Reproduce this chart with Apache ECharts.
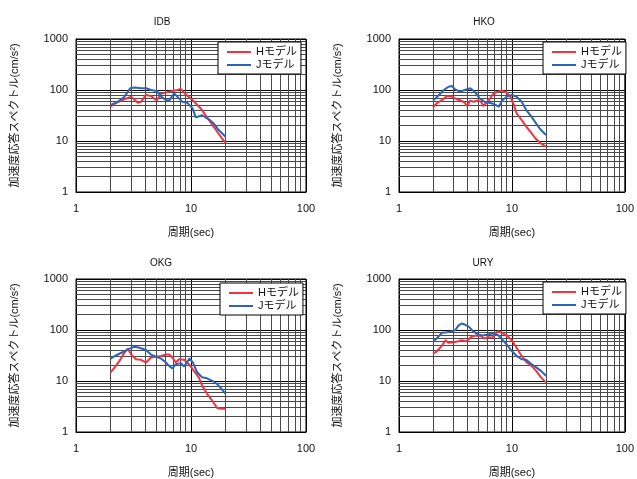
<!DOCTYPE html>
<html><head><meta charset="utf-8">
<script src="https://cdn.jsdelivr.net/npm/echarts@6/dist/echarts.min.js"></script>
<style>html,body{margin:0;padding:0;background:#fff}#c{width:637px;height:479px}</style>
</head><body><div id="c"></div><script>
// ---- data (period [sec], spectral acceleration [cm/s^2]) ----
const panelTitles = ['IDB', 'HKO', 'OKG', 'URY'];
const seriesNames = ['Hモデル', 'Jモデル'];
const yTickLabels = [1, 10, 100, 1000];
const xTickLabels = [1, 10, 100];
const yMinor = [2,3,4,5,6,7,8,9,20,30,40,50,60,70,80,90,200,300,400,500,600,700,800,900];
const xMinor = [2,3,4,5,6,7,8,9,20,30,40,50,60,70,80,90];

const idbH = [[2,47],[2.2,55],[2.56,64],[3.02,74],[3.45,56],[3.68,59],[4.07,80],[4.49,76],[5.03,62],[5.48,84],[6.45,93],[7.6,100],[8.15,105],[8.9,84],[10.3,64],[12.1,44],[14.3,26],[16.9,15.2],[20,9.0]];
const idbJ = [[2,51],[2.2,56],[2.39,62],[2.64,74],[2.96,108],[3.23,112],[3.68,108],[4.07,108],[4.49,100],[5.03,96],[5.48,74],[6.05,64],[6.45,62],[7.14,86],[7.6,74],[8.4,59],[9.3,56],[10.3,44],[11.0,29],[12.5,32],[14.3,26.6],[15.8,22],[17.4,16.4],[20,12.1]];
const hkoH = [[2,46],[2.18,56],[2.41,64],[2.66,76],[2.94,74],[3.24,66],[3.58,62],[3.83,56],[4.01,48.5],[4.28,62],[4.58,59],[4.99,62],[5.33,59],[5.59,48.5],[5.82,47],[6.28,64],[6.7,80],[7.42,93],[8.17,97],[9.01,89],[9.7,74],[10.4,51],[11.0,35],[12.2,25.8],[13.4,19.1],[14.9,14.2],[16.4,10.8],[18.1,9.0],[20,7.7]];
const hkoJ = [[2,62],[2.26,80],[2.49,100],[2.75,116],[2.94,120],[3.14,103],[3.47,93],[3.83,100],[4.28,108],[4.67,93],[5.16,69],[5.7,59],[6.28,56],[6.95,53],[7.67,47],[8.17,62],[9.01,74],[9.97,80],[11.0,74],[12.2,59],[13.4,40.5],[14.9,30],[16.4,22],[18.1,16.4],[20,13.1]];
const okgH = [[2,14.8],[2.17,18.5],[2.39,24.8],[2.64,36],[2.82,43],[3.02,33],[3.33,26.7],[3.68,26],[4.07,23],[4.49,28.9],[4.96,30],[5.48,31],[6.05,33],[6.45,33],[6.9,29],[7.37,23],[7.87,26.7],[8.7,26],[9.6,21.4],[10.6,15.8],[11.7,11.8],[12.5,8.1],[13.8,5.6],[15.3,4.1],[16.9,2.95],[18.6,2.86],[20,2.86]];
const okgJ = [[2,27.6],[2.24,32],[2.56,37],[2.92,43],[3.23,47],[3.56,45],[4.07,40.5],[4.49,33],[4.96,30],[5.48,27.6],[6.05,23],[6.45,19.8],[6.9,17.6],[7.37,21.4],[8.15,22.4],[8.7,19.3],[9.3,23.7],[9.7,27.6],[10.4,23],[11.3,14.8],[12.5,11.8],[13.8,11.3],[15.3,10.1],[16.9,8.7],[18.4,7.0],[20,5.6]];
const uryH = [[2,34.5],[2.18,38.7],[2.41,50],[2.58,62.5],[2.75,56],[3.04,57.7],[3.36,60.4],[3.58,63],[3.96,60],[4.37,73.8],[4.82,78],[5.33,76],[5.7,67.5],[6.08,72.6],[6.7,70.5],[7.18,88],[7.56,95],[8.17,88],[9.01,78],[9.97,63],[11.0,45],[12.2,31],[13.4,23.7],[14.9,19.8],[16.4,15.8],[18.1,11.8],[20,9.4]];
const uryJ = [[2,57.7],[2.18,70.5],[2.41,88],[2.66,90.5],[2.94,95],[3.14,99],[3.36,122],[3.58,134],[3.83,128],[4.17,115],[4.52,95],[4.99,82],[5.51,78],[6.08,82],[6.7,85.5],[7.42,82],[8.17,65.4],[9.01,52],[9.97,38.7],[11.0,31],[12.2,26.7],[13.4,26],[14.9,21.4],[16.4,18.5],[18.1,15.8],[20,12.7]];

const panelData = [[idbH, idbJ], [hkoH, hkoJ], [okgH, okgJ], [uryH, uryJ]];

// ---- layout / style ----
const FONT = "'Liberation Sans','Noto Sans CJK JP',sans-serif";
const colors = ['#ee3342', '#2a64b3'];
const grids = [
  {left: 76, top: 39, width: 230, height: 153},
  {left: 399, top: 39, width: 230, height: 153},
  {left: 76, top: 279, width: 230, height: 154},
  {left: 399, top: 279, width: 230, height: 154}
];
const titlePos = [[162, 22], [484, 22], [161, 263], [483, 263]];
const legendPos = [[218, 42], [543, 42], [220, 283], [543, 282]];

const option = {
  animation: false,
  backgroundColor: '#fff',
  grid: grids.map(g => Object.assign({show: true, borderColor: '#000', borderWidth: 1, containLabel: false}, g)),
  xAxis: grids.map((g, i) => ({
    type: 'log', logBase: 10, min: xTickLabels[0], max: xTickLabels[xTickLabels.length - 1], gridIndex: i,
    name: '周期(sec)', nameLocation: 'middle', nameGap: 35,
    nameTextStyle: {fontSize: 11, color: '#111', fontFamily: FONT},
    axisLine: {show: true, lineStyle: {color: '#000', width: 1}},
    axisTick: {show: false},
    axisLabel: {fontSize: 11, color: '#111', fontFamily: FONT, margin: 11, formatter: v => String(v)},
    splitLine: {show: true, lineStyle: {color: '#000', width: 1}}
  })),
  yAxis: grids.map((g, i) => ({
    type: 'log', logBase: 10, min: yTickLabels[0], max: yTickLabels[yTickLabels.length - 1], gridIndex: i,
    name: '加速度応答スペクトル(cm/s²)', nameLocation: 'middle', nameGap: 56, nameRotate: 90,
    nameTextStyle: {fontSize: 11, color: '#111', fontFamily: FONT},
    axisLine: {show: true, lineStyle: {color: '#000', width: 1}},
    axisTick: {show: false},
    axisLabel: {fontSize: 11, color: '#111', fontFamily: FONT, margin: 8, formatter: v => String(v)},
    splitLine: {show: true, lineStyle: {color: '#000', width: 1}}
  })),
  legend: legendPos.map(p => ({
    data: seriesNames, orient: 'vertical', left: p[0], top: p[1], z: 50, zlevel: 0,
    icon: 'rect', itemWidth: 24, itemHeight: 2, itemGap: 1,
    padding: [4, 4, 3, 9],
    backgroundColor: '#fff', borderColor: '#000', borderWidth: 1, borderRadius: 0,
    textStyle: {fontSize: 11, color: '#111', fontFamily: FONT, lineHeight: 12},
    selectedMode: false
  })),
  graphic: panelTitles.map((t, i) => ({
    type: 'text', x: titlePos[i][0], y: titlePos[i][1], silent: true,
    style: {text: t, fill: '#111', font: '10px ' + FONT, textAlign: 'center', textVerticalAlign: 'middle'}
  })),
  series: []
};

panelData.forEach((pair, i) => {
  option.series.push({
    type: 'line', xAxisIndex: i, yAxisIndex: i, data: [], silent: true, z: 1,
    markLine: {
      silent: true, symbol: ['none', 'none'], label: {show: false}, animation: false, z: 1,
      lineStyle: {color: '#4a4a4a', width: 1, type: 'solid'},
      emphasis: {disabled: true},
      data: yMinor.map(v => ({yAxis: v})).concat(xMinor.map(v => ({xAxis: v})))
    }
  });
  pair.forEach((d, k) => {
    option.series.push({
      name: seriesNames[k], type: 'line', xAxisIndex: i, yAxisIndex: i, data: d,
      showSymbol: false, symbol: 'none', smooth: false, z: 5,
      lineStyle: {color: colors[k], width: 2}, itemStyle: {color: colors[k]}
    });
  });
});

const chart = echarts.init(document.getElementById('c'), null, {renderer: 'canvas'});
chart.setOption(option);
</script></body></html>
